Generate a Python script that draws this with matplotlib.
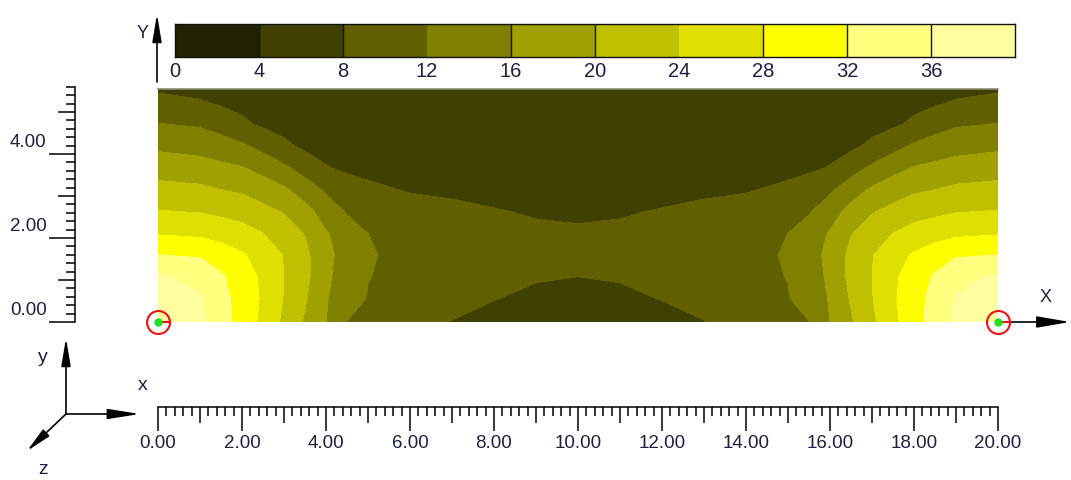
import numpy as np
import matplotlib
matplotlib.use("Agg")
import matplotlib.pyplot as plt
from matplotlib.path import Path

# legend bar: contour levels and their fill colours
levels = [0, 4, 8, 12, 16, 20, 24, 28, 32, 36, 40]
colors = ['#222200', '#404000', '#606000', '#808000', '#a0a000',
          '#c0c000', '#e0e000', '#ffff00', '#ffff80', '#ffffa0']
bar_labels = ['0', '4', '8', '12', '16', '20', '24', '28', '32', '36']
bar_lines = [4, 8, 16, 20, 28, 32, 36]   # separators drawn in the bar

# field values, left half (right half is the mirror)
xs_half = [0, 1, 1.5, 2, 2.5, 3, 3.5, 4, 4.5, 5, 6, 7, 8, 9, 10]
ys = [0, 0.55, 1.08, 1.6, 2.11, 2.63, 3.15, 3.66, 4.18, 4.7, 5.21, 5.55]
z_half = [
    [40.0, 36.7, 33.8, 30.4, 27.0, 23.2, 19.5, 16.0, 11.9, 11.1, 9.5, 7.9, 6.8, 6.0, 5.6],
    [38.1, 36.2, 33.5, 30.2, 27.5, 23.8, 20.4, 16.3, 13.6, 11.8, 10.3, 9.0, 8.1, 7.2, 6.8],
    [36.3, 35.3, 32.5, 29.8, 27.3, 24.0, 21.1, 16.6, 14.4, 12.1, 10.9, 9.8, 9.0, 8.3, 8.0],
    [32.0, 31.5, 29.9, 28.4, 26.3, 23.8, 21.0, 16.8, 14.8, 12.3, 11.0, 10.0, 9.4, 8.9, 8.7],
    [27.7, 27.2, 26.5, 25.5, 24.0, 21.9, 19.8, 16.3, 14.1, 12.0, 10.4, 9.6, 9.0, 8.6, 8.4],
    [24.2, 23.8, 23.1, 22.5, 21.1, 19.7, 17.3, 14.3, 11.6, 10.8, 9.6, 8.8, 8.2, 7.7, 7.5],
    [21.3, 20.8, 20.0, 19.4, 18.1, 16.6, 14.1, 11.4, 10.2, 8.8, 7.7, 7.4, 7.0, 6.7, 6.6],
    [18.3, 17.7, 17.0, 16.3, 14.75, 12.8, 10.4, 8.3, 7.3, 7.0, 6.4, 6.2, 6.0, 5.8, 5.7],
    [15.3, 14.6, 13.7, 12.7, 10.8, 8.8, 7.3, 6.5, 6.1, 5.8, 5.5, 5.3, 5.2, 5.1, 5.0],
    [12.2, 11.6, 10.5, 8.6, 7.5, 6.8, 6.0, 5.5, 5.2, 5.0, 4.9, 4.8, 4.7, 4.6, 4.6],
    [9.3, 8.4, 7.6, 7.2, 6.0, 5.5, 5.2, 5.0, 4.8, 4.6, 4.5, 4.4, 4.3, 4.3, 4.3],
    [7.5, 7.0, 6.8, 6.5, 5.6, 5.0, 4.9, 4.8, 4.6, 4.5, 4.4, 4.3, 4.2, 4.2, 4.2],
]

# supports (red circles)
supports_x = [0, 20]
supports_y = [0, 0]

# ruler labels
x_ruler_labels = [0, 2, 4, 6, 8, 10, 12, 14, 16, 18, 20]
y_ruler_labels = [0, 2, 4]

W, H = 1071, 480
TXT = '#1c2140'
FONT = ['Liberation Sans', 'DejaVu Sans']


def box(x0, y0, x1, y1):
    # pixel rectangle (top-left origin) -> figure fraction
    return [x0 / W, 1 - y1 / H, (x1 - x0) / W, (y1 - y0) / H]


def main():
    plt.rcParams['font.family'] = FONT
    fig = plt.figure(figsize=(W / 100, H / 100), dpi=100)

    # full mirrored grid
    zh = np.array(z_half)
    xs = xs_half + [20 - x for x in reversed(xs_half[:-1])]
    Z = np.hstack([zh, zh[:, -2::-1]])
    X, Y = np.meshgrid(xs, ys)

    # contour plot
    ax = fig.add_axes(box(158, 89, 998, 322))
    ax.contourf(X, Y, Z, levels=levels, colors=colors)
    ax.set_xlim(0, 20)
    ax.set_ylim(0, 5.55)
    ax.axis('off')
    ax.axhline(5.55, color='#8c8c74', lw=1.2, clip_on=False)
    ax.plot(supports_x, supports_y, 'o', ms=16.5, mfc='none', mec='#ee1111',
            mew=1.5, clip_on=False, zorder=5)
    tail = Path([[0, 0], [1, 0]], [Path.MOVETO, Path.LINETO])
    ax.plot(supports_x, supports_y, ls='none', marker=tail, ms=16.5,
            mec='#ee1111', mew=1.5, clip_on=False, zorder=5)
    ax.plot(supports_x, supports_y, 'o', ms=5, color='#22dd22',
            clip_on=False, zorder=6)

    # left ruler
    rax = fig.add_axes(box(74.5, 322 - 5.6 * 42, 75.5, 322))
    rax.set_ylim(0, 5.6)
    rax.set_xticks([])
    for s in ['top', 'right', 'bottom']:
        rax.spines[s].set_visible(False)
    rax.spines['left'].set_linewidth(1.1)
    rax.set_yticks(np.arange(0, 6))
    rax.set_yticks(np.arange(0, 5.61, 0.2), minor=True)
    rax.tick_params(axis='y', which='major', direction='out', length=18.7,
                    width=1.1, labelleft=False)
    rax.tick_params(axis='y', which='minor', direction='out', length=6.5,
                    width=1.1)
    for tick, loc in zip(rax.yaxis.get_major_ticks(), rax.get_yticks()):
        if round(loc) % 2:
            tick.tick1line.set_markersize(12.2)
    for v in y_ruler_labels:
        rax.annotate(f"{v:.2f}", xy=(0, v), xycoords=('axes fraction', 'data'),
                     xytext=(-20, 8.6), textcoords='offset points',
                     ha='right', va='center', fontsize=13.5, color=TXT)

    # bottom ruler
    bax = fig.add_axes(box(158, 405.5, 998, 406.5))
    bax.set_xlim(0, 20)
    bax.set_yticks([])
    for s in ['top', 'right', 'left']:
        bax.spines[s].set_visible(False)
    bax.spines['bottom'].set_linewidth(1.1)
    bax.set_xticks(np.arange(0, 21))
    bax.set_xticks(np.arange(0, 20.01, 0.2), minor=True)
    bax.set_xticklabels([f"{v:.2f}" if v in x_ruler_labels else ''
                         for v in range(21)])
    bax.tick_params(axis='x', which='major', direction='out', length=17.3,
                    width=1.1, pad=3.0, labelsize=13.5, labelcolor=TXT)
    bax.tick_params(axis='x', which='minor', direction='out', length=6.5,
                    width=1.1)
    for tick, loc in zip(bax.xaxis.get_major_ticks(), bax.get_xticks()):
        if round(loc) % 2:
            tick.tick1line.set_markersize(11.5)

    # legend bar
    cax = fig.add_axes(box(175, 24, 1015, 57.3))
    cax.bar(levels[:-1], [1] * len(colors), width=4, align='edge',
            color=colors, linewidth=0)
    cax.vlines(bar_lines, 0, 1, color='#111111', lw=1.0)
    cax.set_xlim(levels[0], levels[-1])
    cax.set_ylim(0, 1)
    cax.set_yticks([])
    cax.set_xticks(levels[:-1])
    cax.set_xticklabels(bar_labels)
    cax.tick_params(axis='x', length=0, pad=3.4, labelsize=14.5,
                    labelcolor=TXT)
    for s in cax.spines.values():
        s.set_linewidth(1.0)
        s.set_color('#111111')

    # arrows and axis letters, in pixel space
    ov = fig.add_axes([0, 0, 1, 1], zorder=-1)
    ov.set_xlim(0, W)
    ov.set_ylim(H, 0)
    ov.axis('off')

    def arrow(x0, y0, x1, y1, hl, hw):
        ov.annotate('', xy=(x1, y1), xytext=(x0, y0),
                    arrowprops=dict(arrowstyle=f'-|>,head_length={hl},head_width={hw}',
                                    mutation_scale=14, lw=1.2, color='black',
                                    shrinkA=0, shrinkB=0))

    arrow(157, 82, 157, 14, 1.2, 0.2)
    ov.text(142.5, 33.5, 'Y', fontsize=13, color=TXT, ha='center', va='center')
    arrow(998, 322, 1070, 322, 1.45, 0.25)
    ov.text(1046, 298, 'X', fontsize=13, color=TXT, ha='center', va='center')

    arrow(66, 414, 66, 338, 1.2, 0.2)
    arrow(66, 414, 140, 414, 1.4, 0.22)
    arrow(66, 414, 27, 451, 1.1, 0.2)
    ov.text(43, 357, 'y', fontsize=14, color=TXT, ha='center', va='center')
    ov.text(143, 386, 'x', fontsize=14, color=TXT, ha='center', va='center')
    ov.text(43, 470, 'z', fontsize=14, color=TXT, ha='center', va='center')

    fig.savefig('out.png', dpi=100)


if __name__ == '__main__':
    main()
